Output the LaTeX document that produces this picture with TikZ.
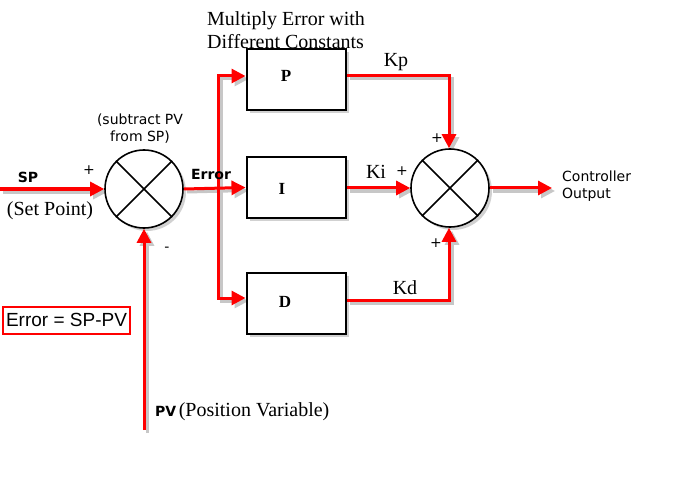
\documentclass[tikz,border=0pt]{standalone}
\usepackage{fontspec}
\setmainfont{Liberation Serif}
\newfontfamily\tah{DejaVu Sans}
\newfontfamily\ari{Liberation Sans}
\usetikzlibrary{arrows.meta,shadows,backgrounds}
\begin{document}
\begin{tikzpicture}[x=1pt,y=-1pt,
  sig/.style={draw=red, line width=3pt, -{Triangle[length=14pt,width=14pt]}},
  sigshadow/.style={draw=black!22, line width=3pt, -{Triangle[length=14pt,width=14pt]}},
  shad/.style={drop shadow={shadow xshift=3pt, shadow yshift=-3pt, opacity=0.3, fill=black!60}},
  blk/.style={draw, line width=2pt, fill=white, minimum width=99pt, minimum height=61pt, inner sep=0pt, shad},
  sumc/.style={circle, draw, line width=1.6pt, fill=white, minimum size=78pt, inner sep=0pt, shad},
  blabel/.style={font=\bfseries\fontsize{17}{17}\selectfont, inner sep=0pt},
  serif/.style={font=\fontsize{20}{20}\selectfont, inner sep=0pt},
  sans/.style={font=\tah\fontsize{14}{17}\selectfont, inner sep=0pt},
  sansb/.style={font=\tah\bfseries\fontsize{14}{17}\selectfont, inner sep=0pt},
  sign/.style={font=\tah\fontsize{14}{14}\selectfont, inner sep=0pt},
]
\useasboundingbox (0,0) rectangle (674,489);

% summing junctions
\node[sumc] (s1) at (144,189) {};
\node[sumc] (s2) at (450,188) {};
\draw[line width=1.6pt] (s1.45) -- (s1.225) (s1.135) -- (s1.-45);
\draw[line width=1.6pt] (s2.45) -- (s2.225) (s2.135) -- (s2.-45);

% blocks
\node[blk] (P) at (296,80) {};
\node[blk] (I) at (296,187.5) {};
\node[blk] (D) at (296,303) {};
\node[blabel] (Pl) at (286,76) {P};
\node[blabel] (Il) at (282,189) {I};
\node[blabel] (Dl) at (285,302) {D};

% coordinates
\coordinate (spin) at (0,189);
\coordinate (pvin) at (144,430);
\coordinate (jP) at (218,76);
\coordinate (jD) at (218,298);
\coordinate (kp) at (449,76);
\coordinate (kd) at (449,300);
\coordinate (out) at (552,188);

% connector shadows
\begin{pgfonlayer}{background}
\begin{scope}[transform canvas={shift={(3pt,-3pt)}}]
\draw[sigshadow] (spin) -- (s1.west);
\draw[sigshadow] (pvin) -- (s1.south);
\draw[sigshadow] (s1.east) -- (I.west);
\draw[sigshadow] (jD) -- (jP) -- (P.west |- jP);
\draw[sigshadow] (jP) -- (jD) -- (D.west |- jD);
\draw[sigshadow] (P.east |- kp) -- (kp) -- (kp |- s2.north);
\draw[sigshadow] (I.east |- s2.west) -- (s2.west);
\draw[sigshadow] (D.east |- kd) -- (kd) -- (kd |- s2.south);
\draw[sigshadow] (s2.east) -- (out);
\end{scope}
\end{pgfonlayer}

% connectors
\draw[sig] (spin) -- (s1.west);
\draw[sig] (pvin) -- (s1.south);
\draw[sig] (s1.east) -- (I.west);
\draw[sig] (jD) -- (jP) -- (P.west |- jP);
\draw[sig] (jP) -- (jD) -- (D.west |- jD);
\draw[sig] (P.east |- kp) -- (kp) -- (kp |- s2.north);
\draw[sig] (I.east |- s2.west) -- (s2.west);
\draw[sig] (D.east |- kd) -- (kd) -- (kd |- s2.south);
\draw[sig] (s2.east) -- (out);

% texts
\node[serif, anchor=west, align=left] (title) at (207,30) {Multiply Error with\\[3pt]Different Constants};
\node[sansb] (spl) at (28,177) {SP};
\node[serif] (spn) at (50,211) {(Set Point)};
\node[sign] (p1) at (89,170) {+};
\node[sign] (m1) at (167,249) {-};
\node[sans, align=center] (sub) at (140,129) {(subtract PV\\from SP)};
\node[sansb] (err) at (211,174) {Error};
\node[serif] (kpl) at (396,62) {Kp};
\node[serif] (kil) at (376,172) {Ki};
\node[serif] (kdl) at (405,288) {Kd};
\node[sign] (p2) at (437,138) {+};
\node[sign] (p3) at (402,171) {+};
\node[sign] (p4) at (436,243) {+};
\node[sans, anchor=west, align=left] (co) at (562,186) {Controller\\Output};
\node[anchor=west, inner sep=0pt] (pvl) at (155,412) {{\tah\bfseries\fontsize{14}{14}\selectfont PV} {\fontsize{20}{20}\selectfont(Position Variable)}};
\node[draw=red, line width=2pt, font=\ari\fontsize{19}{19}\selectfont, minimum width=127pt, minimum height=27pt, inner sep=0pt] (eq) at (66.5,320) {Error = SP-PV};
\end{tikzpicture}
\end{document}
